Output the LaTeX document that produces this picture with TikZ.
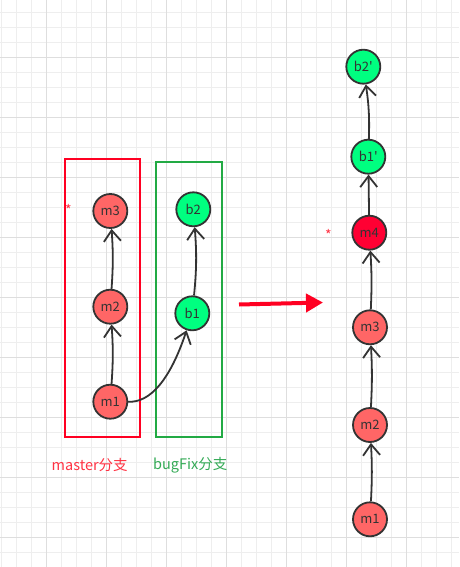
\documentclass[tikz,border=0pt]{standalone}
\usepackage{fontspec}
\setmainfont{Noto Sans CJK SC}[Ligatures=TeXOff]
\usetikzlibrary{arrows.meta}
\definecolor{gridminor}{HTML}{EEEEEE}
\definecolor{gridmajor}{HTML}{DEDEDE}
\definecolor{nodered}{HTML}{FF6666}
\definecolor{nodedark}{HTML}{FF0033}
\definecolor{nodegreen}{HTML}{00FF80}
\definecolor{edge}{HTML}{333333}
\definecolor{boxred}{HTML}{FF0022}
\definecolor{boxgreen}{HTML}{22AA44}
\definecolor{labred}{HTML}{FF3344}
\definecolor{labgreen}{HTML}{33AA55}
\begin{document}
\begin{tikzpicture}[x=1pt,y=-1pt,
  commit/.style={circle,draw=edge,line width=1.8pt,minimum size=34pt,inner sep=0pt,font=\fontsize{13}{15}\selectfont,text=edge},
  redc/.style={commit,fill=nodered},
  darkc/.style={commit,fill=nodedark},
  greenc/.style={commit,fill=nodegreen},
  link/.style={draw=edge,line width=1.8pt,-{Straight Barb[length=11pt,width=17pt,line width=1.8pt]}},
  star/.style={text=labred,font=\fontsize{14}{14}\selectfont,inner sep=0pt}
]
\useasboundingbox (0,0) rectangle (459,567);
\fill[white] (0,0) rectangle (459,567);
% grid
\foreach \x in {1.3,16.3,...,459} \draw[gridminor,line width=1pt] (\x,0) -- (\x,567);
\foreach \y in {12.3,27.3,...,567} \draw[gridminor,line width=1pt] (0,\y) -- (459,\y);
\foreach \x in {46.3,106.3,...,459} \draw[gridmajor,line width=1pt] (\x,0) -- (\x,567);
\foreach \y in {57.3,117.3,...,567} \draw[gridmajor,line width=1pt] (0,\y) -- (459,\y);
% boxes
\node[draw=boxred,line width=1.8pt,minimum width=75pt,minimum height=278pt,inner sep=0pt] (boxm) at (102.3,298) {};
\node[draw=boxgreen,line width=1.8pt,minimum width=66pt,minimum height=275pt,inner sep=0pt] (boxb) at (189,299.5) {};
% left nodes
\node[redc] (m3) at (110.3,211) {m3};
\node[redc] (m2) at (110.3,306.7) {m2};
\node[redc] (m1) at (110.3,401.7) {m1};
\node[greenc] (b2) at (193.3,209.3) {b2};
\node[greenc] (b1) at (192.3,313.3) {b1};
\draw[link] (m1) to[bend right=4] (m2);
\draw[link] (m2) to[bend right=4] (m3);
\draw[link] (b1) to[bend right=5] (b2);
\draw[link] (m1.east) .. controls (150,403) and (170,380) .. (b1);
\node[star] (s1) at (68.5,210) {*};
% labels
\node[text=labred,font=\fontsize{14.5}{16}\selectfont,anchor=west,inner sep=0pt] (lm) at (51.5,465) {master分支};
\node[text=labgreen,font=\fontsize{14.5}{16}\selectfont,anchor=west,inner sep=0pt] (lb) at (153,465) {bugFix分支};
% big arrow
\coordinate (as) at (239,304.5);
\coordinate (ae) at (323,302.5);
\draw[boxred,line width=4pt,-{Triangle[length=17pt,width=18pt]}] (as) -- (ae);
% right column
\node[greenc] (rb2) at (363.3,66.7) {b2'};
\node[greenc] (rb1) at (368.3,156.7) {b1'};
\node[darkc] (rm4) at (369.3,232.7) {m4};
\node[redc] (rm3) at (370,327.3) {m3};
\node[redc] (rm2) at (370,425) {m2};
\node[redc] (rm1) at (370,519.3) {m1};
\draw[link] (rm1) to[bend right=3] (rm2);
\draw[link] (rm2) to[bend right=3] (rm3);
\draw[link] (rm3) to[bend right=3] (rm4);
\draw[link] (rm4) -- (rb1);
\draw[link] (rb1) to[bend right=5] (rb2);
\node[star] (s2) at (328.5,235) {*};
\end{tikzpicture}
\end{document}
